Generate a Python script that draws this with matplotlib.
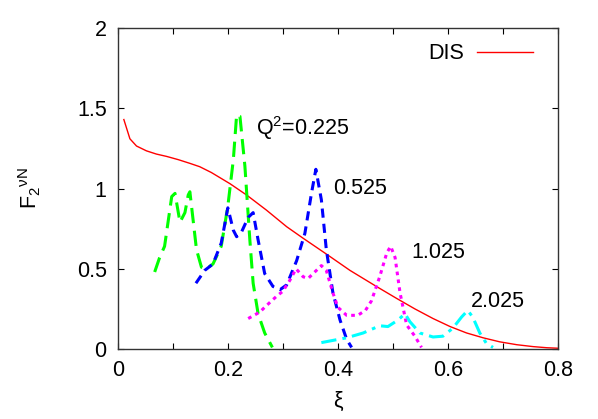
import numpy as np
import matplotlib
matplotlib.use('Agg')
import matplotlib.pyplot as plt

plt.rcParams['font.family'] = ['Liberation Sans', 'DejaVu Sans']
plt.rcParams['mathtext.fontset'] = 'custom'
plt.rcParams['mathtext.rm'] = 'Liberation Sans'
plt.rcParams['mathtext.it'] = 'Liberation Sans'
plt.rcParams['font.size'] = 15.5

# DIS curve
x_dis = [0.011, 0.022, 0.034, 0.052, 0.070, 0.089, 0.110, 0.131, 0.149, 0.170, 0.204, 0.234,
         0.270, 0.307, 0.337, 0.382, 0.422, 0.470, 0.507, 0.540, 0.573, 0.604, 0.634, 0.664,
         0.694, 0.725, 0.755, 0.780, 0.800]
y_dis = [1.43, 1.31, 1.265, 1.235, 1.215, 1.20, 1.18, 1.157, 1.136, 1.10, 1.03, 0.96,
         0.866, 0.762, 0.69, 0.585, 0.49, 0.39, 0.315, 0.25, 0.19, 0.14, 0.10, 0.07,
         0.045, 0.027, 0.015, 0.008, 0.005]

# Q2 = 0.225
x_g = [0.067, 0.076, 0.085, 0.098, 0.104, 0.113, 0.122, 0.128, 0.131, 0.143, 0.152, 0.161,
       0.173, 0.188, 0.200, 0.210, 0.216, 0.222, 0.231, 0.240, 0.246, 0.255, 0.267, 0.281]
y_g = [0.48, 0.57, 0.64, 0.95, 0.97, 0.79, 0.85, 0.96, 0.98, 0.62, 0.51, 0.50,
       0.53, 0.64, 0.89, 1.18, 1.46, 1.45, 1.14, 0.68, 0.41, 0.22, 0.10, 0.01]

# Q2 = 0.525
x_b = [0.142, 0.158, 0.173, 0.188, 0.200, 0.210, 0.216, 0.225, 0.237, 0.246, 0.255, 0.267, 0.282,
       0.295, 0.307, 0.325, 0.340, 0.352, 0.360, 0.370, 0.379, 0.391, 0.404, 0.416, 0.425]
y_b = [0.41, 0.49, 0.53, 0.66, 0.88, 0.74, 0.70, 0.73, 0.82, 0.85, 0.68, 0.47, 0.39,
       0.37, 0.40, 0.55, 0.72, 0.97, 1.12, 0.93, 0.62, 0.35, 0.18, 0.06, 0.01]

# Q2 = 1.025
x_m = [0.237, 0.258, 0.270, 0.289, 0.300, 0.313, 0.324, 0.337, 0.346, 0.358, 0.370, 0.379, 0.391,
       0.400, 0.416, 0.436, 0.450, 0.461, 0.476, 0.489, 0.496, 0.504, 0.513, 0.525, 0.540, 0.552]
y_m = [0.19, 0.23, 0.27, 0.33, 0.36, 0.43, 0.50, 0.45, 0.44, 0.48, 0.52, 0.49, 0.35,
       0.26, 0.21, 0.21, 0.24, 0.30, 0.45, 0.60, 0.64, 0.57, 0.35, 0.15, 0.08, 0.01]

# Q2 = 2.025
x_c = [0.370, 0.416, 0.446, 0.476, 0.491, 0.509, 0.522, 0.531, 0.549, 0.573, 0.591, 0.609,
       0.625, 0.636, 0.645, 0.658, 0.670, 0.682]
y_c = [0.04, 0.07, 0.10, 0.145, 0.14, 0.18, 0.22, 0.17, 0.10, 0.075, 0.08, 0.13,
       0.20, 0.24, 0.20, 0.10, 0.035, 0.01]

labels = ['Q$^2$=0.225', '0.525', '1.025', '2.025']
label_x = [0.251, 0.391, 0.534, 0.642]
label_y = [1.377, 1.0, 0.60, 0.295]

xticks = [0, 0.2, 0.4, 0.6, 0.8]
xtick_labels = ['0', '0.2', '0.4', '0.6', '0.8']
yticks = [0, 0.5, 1, 1.5, 2]
ytick_labels = ['0', '0.5', '1', '1.5', '2']

fig = plt.figure(figsize=(5.98, 4.19), dpi=100)
ax = fig.add_axes([0.197, 0.167, 0.736, 0.766])

ax.plot(x_dis, y_dis, color='#ff0000', lw=1.0, label='DIS')
ax.plot(x_g, y_g, color='#00ff00', lw=2.2, dashes=(5, 2.5))
ax.plot(x_b, y_b, color='#0000ff', lw=2.2, dashes=(3, 2))
ax.plot(x_m, y_m, color='#ff00ff', lw=2.2, dashes=(1.2, 1.4))
ax.plot(x_c, y_c, color='#00ffff', lw=2.2, dashes=(5, 2, 1.2, 2))

for t, lx, ly in zip(labels, label_x, label_y):
    ax.text(lx, ly, t, va='center', ha='left')

ax.set_xlim(0, 0.8)
ax.set_ylim(0, 2)
ax.set_xticks(xticks)
ax.set_xticklabels(xtick_labels)
ax.set_xticks([0.1, 0.3, 0.5, 0.7], minor=True)
ax.set_yticks(yticks)
ax.set_yticklabels(ytick_labels)
ax.tick_params(which='both', direction='in', top=True, right=True, length=4, width=0.8, pad=8)
for s in ax.spines.values():
    s.set_linewidth(1.0)
    s.set_color('#333333')

ax.set_xlabel('ξ')
ax.set_ylabel(r'F$_2$$^{\nu N}$')
ax.yaxis.set_label_coords(-0.17, 0.5)
ax.xaxis.set_label_coords(0.5, -0.13)

ax.legend(loc='upper right', bbox_to_anchor=(0.977, 1.0), frameon=False, markerfirst=False,
          handlelength=2.6, handletextpad=0.6, borderaxespad=0.3)

fig.savefig('out.png', dpi=100)
